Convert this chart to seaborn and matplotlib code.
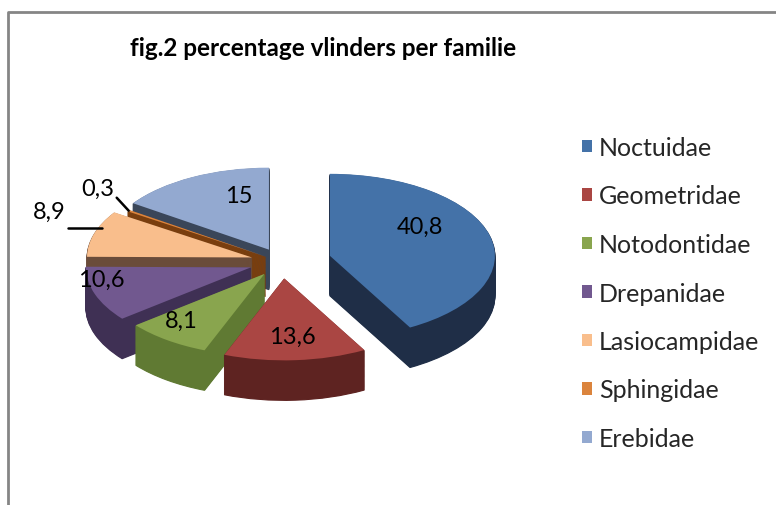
import numpy as np
import matplotlib
matplotlib.use("Agg")
import matplotlib.pyplot as plt
import seaborn as sns
from matplotlib.lines import Line2D

# ---------------- data ----------------
families = ["Noctuidae", "Geometridae", "Notodontidae", "Drepanidae",
            "Lasiocampidae", "Sphingidae", "Erebidae"]
values = [40.8, 13.6, 8.1, 10.6, 8.9, 0.3, 15]
value_labels = ["40,8", "13,6", "8,1", "10,6", "8,9", "0,3", "15"]
title = "fig.2 percentage vlinders per familie"

# ---------------- style ----------------
top_colors = ["#4472A8", "#AA4643", "#89A54E", "#71588F", "#F9BE8C", "#DB843D", "#93A9D0"]
side_colors = ["#1F2E47", "#5E2321", "#607A33", "#3F3054", "#6A4C3A", "#7A3E0E", "#3A4659"]
explode = [0.30, 0.20, 0.18, 0.20, 0.19, 0.12, 0.17]
label_r = [0.65, 0.71, 0.76, 0.92, None, None, 0.68]
label_dang = [-18.5, 0.0, 5.0, 10.0, 0.0, 0.0, 12.0]

sns.set_theme(style="white")
plt.rcParams["font.family"] = ["Lato", "DejaVu Sans"]

W, H = 776, 506
fig = plt.figure(figsize=(W / 100, H / 100), dpi=100)
fig.patch.set_facecolor("white")
ax = fig.add_axes([0, 0, 1, 1])

R_PX, RY_PX = 165.0, 82.0      # horizontal / vertical radius in pixels
CX, CY = 282.0, 263.0          # pie centre in pixels (y from top)
DEPTH_PX = 40.0
n_layers = 44

total = float(sum(values))
cum = np.cumsum([0.0] + list(values[:-1]))
mid = (cum + np.array(values) / 2.0) / total * 360.0   # clockwise from 12 o'clock
order_key = -np.cos(np.radians(mid))                   # back slices first
rank = np.argsort(np.argsort(order_key))

step = DEPTH_PX / RY_PX / n_layers
for k in range(n_layers, 0, -1):
    wedges, _ = ax.pie(values, explode=explode, startangle=90, counterclock=False,
                       colors=side_colors, center=(0, -k * step), radius=1.0,
                       wedgeprops=dict(linewidth=0.8))
    for i, w in enumerate(wedges):
        w.set_edgecolor(w.get_facecolor())
        w.set_zorder(rank[i] * 100 + (n_layers - k))

lab_iter = iter(value_labels)
top_wedges, _, autotexts = ax.pie(values, explode=explode, startangle=90,
                                  counterclock=False, colors=top_colors,
                                  center=(0, 0), radius=1.0,
                                  autopct=lambda p: next(lab_iter), pctdistance=0.72,
                                  wedgeprops=dict(linewidth=0),
                                  textprops=dict(fontsize=17, color="#000000"))
for i, w in enumerate(top_wedges):
    w.set_zorder(rank[i] * 100 + n_layers + 1)

px_x = 1.0 / R_PX   # one pixel in data units
px_y = 1.0 / RY_PX

for i, t in enumerate(autotexts):
    t.set_zorder(2000)
    a = np.radians(mid[i])
    ex, ey = explode[i] * np.sin(a), explode[i] * np.cos(a)
    if label_r[i] is not None:
        a2 = np.radians(mid[i] + label_dang[i])
        t.set_position((ex + label_r[i] * np.sin(a2), ey + label_r[i] * np.cos(a2)))
    else:
        rim_x, rim_y = ex + np.sin(a), ey + np.cos(a)
        if i == 4:   # horizontal leader to the left
            x0 = rim_x - 26 * px_x
            ax.add_line(Line2D([x0, rim_x + 8 * px_x], [rim_y + 6 * px_y, rim_y + 6 * px_y],
                               color="black", lw=1.8, zorder=2001))
            t.set_position((x0 - 3 * px_x, rim_y + 22 * px_y))
            t.set_ha("right")
        else:        # short diagonal leader up-left
            x0, y0 = rim_x - 12 * px_x, rim_y + 13 * px_y
            ax.add_line(Line2D([x0, rim_x], [y0, rim_y], color="black", lw=1.8, zorder=2001))
            t.set_position((x0 - 2 * px_x, y0 + 9 * px_y))
            t.set_ha("right")

ax.set_aspect("auto")
ax.set_xlim(-CX / R_PX, (W - CX) / R_PX)
ax.set_ylim((CY - H) / RY_PX, CY / RY_PX)
ax.axis("off")

# title
fig.text(323 / W, 1 - 48 / H, title, ha="center", va="center",
         fontsize=17.5, fontweight="bold", color="#000000")

# legend
ax.legend(top_wedges, families, loc="upper left",
          bbox_to_anchor=(582 / W, 1 - 137 / H), bbox_transform=fig.transFigure,
          frameon=False, fontsize=18, handlelength=0.4, handleheight=0.4,
          handletextpad=0.28, labelspacing=1.02, borderpad=0, borderaxespad=0)

# chart-area border (top and left edges visible)
fig.add_artist(Line2D([7.5 / W, 7.5 / W, 1.0], [0.0, 1 - 12.5 / H, 1 - 12.5 / H],
                      transform=fig.transFigure, color="#858585", lw=2))

fig.savefig("out.png", dpi=100, facecolor="white")
